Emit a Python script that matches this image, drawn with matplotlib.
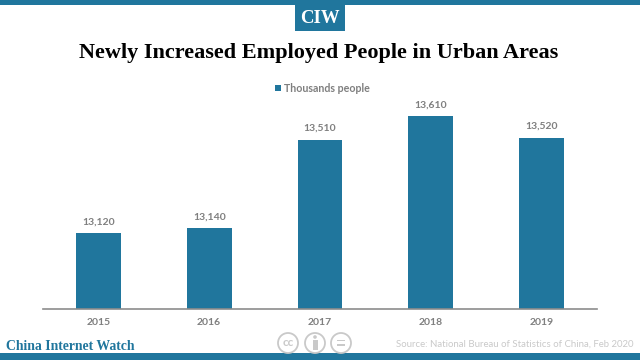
import matplotlib
matplotlib.use("Agg")
import matplotlib.pyplot as plt
from matplotlib.patches import Circle, Rectangle

# data
years = ["2015", "2016", "2017", "2018", "2019"]
people = [13120, 13140, 13510, 13610, 13520]
value_labels = ["13,120", "13,140", "13,510", "13,610", "13,520"]

W, H = 640, 360
blue = "#20769d"
grey = "#7f7f7f"
light = "#c9c9c9"

plt.rcParams['font.family'] = ['Lato', 'DejaVu Sans']

fig = plt.figure(figsize=(W / 100, H / 100), dpi=100, facecolor="white")

# chart area: baseline at y=309, x from 43 to 597
ax = fig.add_axes([43 / W, (H - 309) / H, 554 / W, 239 / H])
x = range(len(years))
ax.bar(x, people, width=0.405, color=blue, label="Thousands people")
ax.set_xlim(-0.5, 4.5)
ax.set_ylim(12802, 13803)
ax.set_yticks([])
ax.set_xticks(list(x))
ax.set_xticklabels(years, fontsize=7.5, fontweight="bold", color=grey)
ax.tick_params(axis="x", length=0, pad=6.5)
for s in ["top", "left", "right"]:
    ax.spines[s].set_visible(False)
ax.spines["bottom"].set_color("#8c8c8c")
ax.spines["bottom"].set_linewidth(1.2)
for i, v in enumerate(people):
    ax.annotate(value_labels[i], (i, v), xytext=(0, 5), textcoords="offset points",
                ha="center", va="bottom", fontsize=7.5, fontweight="bold", color=grey)

# overlay in pixel coords for the branding bits
ov = fig.add_axes([0, 0, 1, 1], facecolor="none")
ov.set_xlim(0, W)
ov.set_ylim(H, 0)
ov.axis("off")

ov.add_patch(Rectangle((0, 0), W, 5, color=blue, lw=0))
ov.add_patch(Rectangle((0, 353), W, 7, color=blue, lw=0))
ov.add_patch(Rectangle((295, 5), 50, 26, color=blue, lw=0))
ov.text(320, 18.5, "CIW", ha="center", va="center", color="white", fontsize=13.5,
        fontweight="bold", family="Liberation Serif")

ov.text(319, 53, "Newly Increased Employed People in Urban Areas", ha="center", va="center",
        color="black", fontsize=16, fontweight="bold", family="Liberation Serif")

# legend
ov.add_patch(Rectangle((275, 85), 6, 6, color=blue, lw=0))
ov.text(284, 88, "Thousands people", ha="left", va="center", color=grey,
        fontsize=7.7, fontweight="bold")

ov.text(6, 346, "China Internet Watch", ha="left", va="center", color=blue,
        fontsize=9.9, fontweight="bold", family="Liberation Serif")

ov.text(634, 344, "Source: National Bureau of Statistics of China, Feb 2020", ha="right",
        va="center", color=light, fontsize=6.9)

# cc icons
for cx in [288, 315, 341]:
    ov.add_patch(Circle((cx, 343), 10, fill=False, ec=light, lw=1.3))
ov.text(288, 343, "cc", ha="center", va="center", color=light, fontsize=8.5, fontweight="bold")
ov.add_patch(Circle((315, 337), 1.8, color=light, lw=0))
ov.add_patch(Rectangle((312.5, 339.5), 5, 10, color=light, lw=0))
ov.add_patch(Rectangle((337, 339.8), 8, 1.6, color=light, lw=0))
ov.add_patch(Rectangle((337, 344), 8, 1.6, color=light, lw=0))

fig.savefig("out.png", dpi=100)
